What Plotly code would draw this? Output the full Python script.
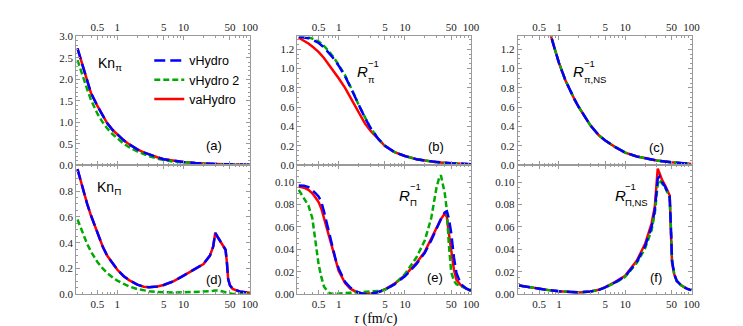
import plotly.graph_objects as go

# ---- data (tau in fm/c) ----
tau_ab = [0.25, 0.3, 0.35, 0.4, 0.5, 0.6, 0.7, 0.85, 1, 1.25, 1.5, 1.75, 2, 2.5, 3, 4, 5, 7, 10, 15, 20, 30, 50, 70, 100]

# (a) Kn_pi
kn_pi_vhydro = [2.72, 2.3, 2.0, 1.68, 1.38, 1.15, 0.98, 0.82, 0.71, 0.58, 0.49, 0.42, 0.37, 0.30, 0.25, 0.185, 0.14, 0.10, 0.075, 0.052, 0.04, 0.03, 0.02, 0.015, 0.01]
kn_pi_vhydro2 = [2.45, 2.05, 1.77, 1.52, 1.2, 1.0, 0.86, 0.72, 0.62, 0.5, 0.42, 0.365, 0.32, 0.26, 0.21, 0.155, 0.12, 0.085, 0.065, 0.045, 0.035, 0.025, 0.017, 0.012, 0.008]
kn_pi_vahydro = [2.72, 2.3, 2.0, 1.68, 1.38, 1.15, 0.98, 0.82, 0.71, 0.58, 0.49, 0.42, 0.37, 0.30, 0.25, 0.185, 0.14, 0.10, 0.075, 0.052, 0.04, 0.03, 0.02, 0.015, 0.01]

# (b) R_pi^-1
r_pi_vhydro = [1.33, 1.325, 1.315, 1.30, 1.265, 1.22, 1.17, 1.10, 1.03, 0.92, 0.81, 0.71, 0.62, 0.49, 0.39, 0.27, 0.2, 0.135, 0.095, 0.062, 0.047, 0.032, 0.02, 0.015, 0.01]
r_pi_vhydro2 = [1.335, 1.33, 1.325, 1.31, 1.28, 1.235, 1.185, 1.11, 1.04, 0.93, 0.82, 0.72, 0.625, 0.49, 0.39, 0.27, 0.2, 0.135, 0.095, 0.062, 0.047, 0.032, 0.02, 0.015, 0.01]
r_pi_vahydro = [1.32, 1.29, 1.26, 1.23, 1.17, 1.11, 1.05, 0.97, 0.90, 0.80, 0.70, 0.61, 0.54, 0.43, 0.36, 0.265, 0.198, 0.135, 0.095, 0.062, 0.047, 0.032, 0.02, 0.015, 0.01]

# (c) R_pi,NS^-1 (all three coincide)
r_pins_vhydro = [3.6, 3.05, 2.65, 2.35, 1.92, 1.62, 1.42, 1.22, 1.06, 0.88, 0.76, 0.67, 0.6, 0.49, 0.41, 0.31, 0.255, 0.19, 0.13, 0.09, 0.07, 0.048, 0.03, 0.02, 0.013]
r_pins_vhydro2 = r_pins_vhydro
r_pins_vahydro = r_pins_vhydro

# (d) Kn_Pi
tau_d = [0.25, 0.3, 0.35, 0.4, 0.5, 0.6, 0.7, 0.85, 1, 1.25, 1.5, 2, 2.5, 3, 4, 5, 7, 10, 15, 20, 25, 28, 30, 35, 40, 43, 45, 47, 50, 55, 70, 100]
kn_Pi_vhydro = [0.97, 0.82, 0.70, 0.61, 0.47, 0.37, 0.30, 0.24, 0.19, 0.14, 0.11, 0.075, 0.058, 0.055, 0.06, 0.072, 0.10, 0.145, 0.2, 0.235, 0.30, 0.37, 0.475, 0.42, 0.37, 0.345, 0.25, 0.12, 0.07, 0.042, 0.022, 0.012]
kn_Pi_vhydro2 = [0.58, 0.47, 0.39, 0.33, 0.25, 0.20, 0.165, 0.13, 0.105, 0.08, 0.062, 0.04, 0.03, 0.024, 0.018, 0.015, 0.014, 0.015, 0.016, 0.018, 0.023, 0.027, 0.03, 0.028, 0.02, 0.015, 0.01, 0.007, 0.004, 0.002, 0.001, 0.0005]
kn_Pi_vahydro = kn_Pi_vhydro

# (e) R_Pi^-1
tau_ef = [0.25, 0.3, 0.35, 0.4, 0.45, 0.5, 0.55, 0.6, 0.7, 0.8, 0.9, 1, 1.25, 1.5, 2, 2.5, 3, 4, 5, 7, 10, 15, 20, 25, 30, 33, 35, 40, 43, 46, 50, 55, 60, 70, 85, 100]
r_Pi_vhydro = [0.097, 0.0968, 0.0955, 0.093, 0.09, 0.087, 0.082, 0.074, 0.058, 0.043, 0.031, 0.023, 0.011, 0.006, 0.0015, 0.0003, 0.0005, 0.002, 0.004, 0.009, 0.016, 0.027, 0.037, 0.048, 0.059, 0.064, 0.067, 0.073, 0.074, 0.068, 0.055, 0.033, 0.019, 0.009, 0.005, 0.003]
r_Pi_vhydro2 = [0.093, 0.085, 0.079, 0.068, 0.048, 0.026, 0.015, 0.007, 0.0015, 0.0003, 0.0005, 0.0008, 0.001, 0.0013, 0.0018, 0.002, 0.0025, 0.003, 0.004, 0.009, 0.018, 0.033, 0.048, 0.068, 0.095, 0.104, 0.106, 0.09, 0.075, 0.045, 0.02, 0.012, 0.009, 0.007, 0.005, 0.003]
r_Pi_vahydro = [0.096, 0.095, 0.093, 0.09, 0.086, 0.082, 0.076, 0.068, 0.053, 0.04, 0.029, 0.021, 0.01, 0.005, 0.001, 0.0003, 0.0006, 0.002, 0.0045, 0.0095, 0.017, 0.028, 0.038, 0.049, 0.059, 0.064, 0.067, 0.072, 0.069, 0.055, 0.04, 0.022, 0.013, 0.008, 0.005, 0.003]

# (f) R_Pi,NS^-1
tau_f = [0.25, 0.3, 0.4, 0.5, 0.7, 1, 1.5, 2, 3, 4, 5, 7, 10, 15, 20, 25, 28, 31, 33, 36, 40, 44, 47, 49, 51, 55, 60, 70, 85, 100]
r_Pins_vhydro = [0.0078, 0.007, 0.0058, 0.005, 0.0037, 0.0027, 0.0019, 0.0017, 0.0025, 0.004, 0.0062, 0.0105, 0.016, 0.029, 0.043, 0.06, 0.075, 0.103, 0.105, 0.1, 0.096, 0.091, 0.087, 0.06, 0.03, 0.018, 0.012, 0.008, 0.005, 0.0037]
r_Pins_vhydro2 = [0.0078, 0.007, 0.0058, 0.005, 0.0037, 0.0027, 0.0019, 0.0017, 0.0025, 0.004, 0.006, 0.0102, 0.0155, 0.028, 0.041, 0.057, 0.072, 0.098, 0.102, 0.099, 0.095, 0.09, 0.086, 0.06, 0.03, 0.018, 0.012, 0.008, 0.005, 0.0037]
r_Pins_vahydro = [0.0078, 0.007, 0.0058, 0.005, 0.0037, 0.0027, 0.0019, 0.0017, 0.0025, 0.004, 0.0064, 0.0108, 0.0165, 0.03, 0.045, 0.063, 0.078, 0.112, 0.108, 0.102, 0.097, 0.092, 0.088, 0.055, 0.028, 0.018, 0.012, 0.008, 0.005, 0.0037]

panels = [
    (tau_ab, kn_pi_vhydro, kn_pi_vhydro2, kn_pi_vahydro),
    (tau_ab, r_pi_vhydro, r_pi_vhydro2, r_pi_vahydro),
    (tau_ab, r_pins_vhydro, r_pins_vhydro2, r_pins_vahydro),
    (tau_d, kn_Pi_vhydro, kn_Pi_vhydro2, kn_Pi_vahydro),
    (tau_ef, r_Pi_vhydro, r_Pi_vhydro2, r_Pi_vahydro),
    (tau_f, r_Pins_vhydro, r_Pins_vhydro2, r_Pins_vahydro),
]

W, H = 743, 326
BLUE, GREEN, RED = "#0000ff", "#00aa00", "#ff0000"
FRAME = "#9a9a9a"

fig = go.Figure()

# red solid underneath, then green, then blue dashes on top
for i, (t, v, v2, va) in enumerate(panels):
    ax = "" if i == 0 else str(i + 1)
    show = i == 0
    fig.add_trace(go.Scatter(x=t, y=va, mode="lines", name="vaHydro", showlegend=show, legendrank=3,
                             line=dict(color=RED, width=2.5),
                             xaxis="x" + ax, yaxis="y" + ax))
    fig.add_trace(go.Scatter(x=t, y=v2, mode="lines", name="vHydro 2", showlegend=show, legendrank=2,
                             line=dict(color=GREEN, width=2.5, dash="6px,3px"),
                             xaxis="x" + ax, yaxis="y" + ax))
    fig.add_trace(go.Scatter(x=t, y=v, mode="lines", name="vHydro", showlegend=show, legendrank=1,
                             line=dict(color=BLUE, width=2.5, dash="11px,5px"),
                             xaxis="x" + ax, yaxis="y" + ax))

# ---- axes ----
x_major = [0.5, 1, 5, 10, 50, 100]
x_minor = [0.3, 0.4, 0.6, 0.7, 0.8, 0.9, 2, 3, 4, 6, 7, 8, 9, 20, 30, 40, 60, 70, 80, 90]
xdom = [[69 / W, 245 / W], [293 / W, 469 / W], [516 / W, 692 / W]]
ytop = [1 - 157 / H, 1 - 23.3 / H]
ybot = [1 - 291 / H, 1 - 157 / H]

tickfont = dict(family="Liberation Serif", size=11, color="#222")

y_specs = [
    ([0, 3.0], [0, 0.5, 1, 1.5, 2, 2.5, 3], 0.1, ".1f"),
    ([0, 1.333], [0, 0.2, 0.4, 0.6, 0.8, 1.0, 1.2], 0.05, ".1f"),
    ([0, 1.333], [0, 0.2, 0.4, 0.6, 0.8, 1.0, 1.2], 0.05, ".1f"),
    ([0, 1.0], [0, 0.2, 0.4, 0.6, 0.8], 0.05, ".1f"),
    ([0, 0.115], [0, 0.02, 0.04, 0.06, 0.08, 0.10], 0.005, ".2f"),
    ([0, 0.115], [0, 0.02, 0.04, 0.06, 0.08, 0.10], 0.005, ".2f"),
]

layout = {}
for i in range(6):
    ax = "" if i == 0 else str(i + 1)
    col = i % 3
    top = i < 3
    layout["xaxis" + ax] = dict(
        type="log", range=[-0.622, 2.003], domain=xdom[col], anchor="y" + ax,
        side="top" if top else "bottom",
        tickmode="array", tickvals=x_major, ticktext=[str(v) for v in x_major],
        ticks="inside", ticklen=4, tickwidth=1, tickcolor=FRAME,
        minor=dict(tickmode="array", tickvals=x_minor, ticks="inside", ticklen=2, tickcolor=FRAME),
        showline=True, linecolor=FRAME, linewidth=1, mirror="allticks",
        showgrid=False, zeroline=False, tickfont=tickfont,
    )
    yr, yt, ymin, fmt = y_specs[i]
    layout["yaxis" + ax] = dict(
        range=yr, domain=ytop if top else ybot, anchor="x" + ax,
        tickmode="array", tickvals=yt, tickformat=fmt,
        ticks="inside", ticklen=4, tickwidth=1, tickcolor=FRAME,
        minor=dict(dtick=ymin, tick0=0, ticks="inside", ticklen=2, tickcolor=FRAME),
        showline=True, linecolor=FRAME, linewidth=1, mirror="allticks",
        showgrid=False, zeroline=False, tickfont=tickfont,
    )
fig.update_layout(**layout)

# ---- text labels ----
def px(x, y):
    return x / W, 1 - y / H

ann = []
sans = "Liberation Sans"

def add_text(x, y, text, size=13, family=sans, xanchor="left", pad=1):
    xx, yy = px(x, y)
    ann.append(dict(x=xx, y=yy, xref="paper", yref="paper", text=text, showarrow=False,
                    xanchor=xanchor, yanchor="middle", borderpad=pad,
                    font=dict(family=family, size=size, color="black")))

# Knudsen labels
add_text(89, 52, "Kn<sub>π</sub>", size=14)
add_text(88, 181, "Kn<sub>Π</sub>", size=14)

# inverse Reynolds labels with stacked sub/superscript
def r_label(x, y, sub):
    add_text(x, y, "<i>R</i>", size=15, pad=0)
    add_text(x + 11, y - 8.5, "−1", size=9.5, pad=0)
    add_text(x + 11, y + 7.5, sub, size=9.5, pad=0)

r_label(352, 60, "π")
r_label(571, 60, "π,NS")
r_label(395, 188, "Π")
r_label(613, 188, "Π,NS")

for lbl, x, y in [("(a)", 209, 137), ("(b)", 433, 138), ("(c)", 656, 139),
                  ("(d)", 209, 276), ("(e)", 432, 274), ("(f)", 656, 274)]:
    add_text(x, y, lbl, size=13, xanchor="center")

add_text(373, 317, "<i>τ</i> (fm/c)", size=14, family="Liberation Serif", xanchor="center")

lx, ly = px(143, 33)
fig.update_layout(
    width=W, height=H,
    margin=dict(l=0, r=0, t=0, b=0),
    paper_bgcolor="white", plot_bgcolor="white",
    annotations=ann,
    legend=dict(x=lx, y=ly, xanchor="left", yanchor="top", bgcolor="rgba(0,0,0,0)",
                font=dict(family=sans, size=12.5, color="black"), tracegroupgap=0),
)

fig.write_html("out.html")
